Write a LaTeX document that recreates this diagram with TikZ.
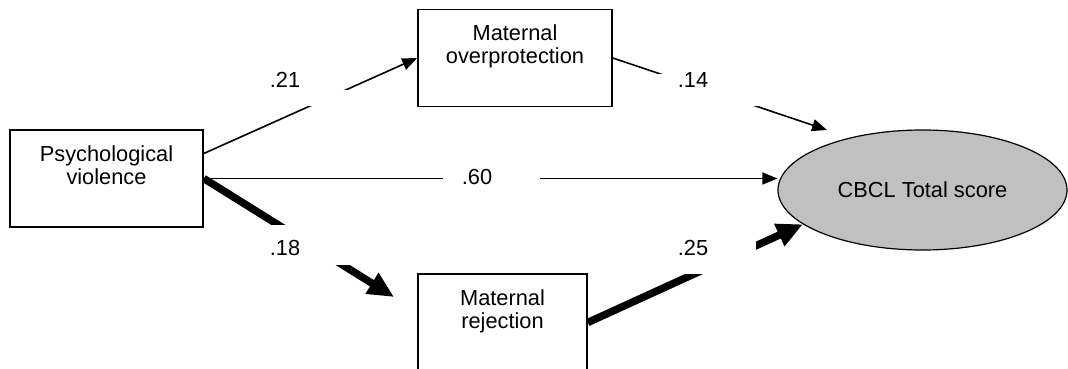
\documentclass[tikz,border=0pt]{standalone}
\usepackage{fontspec}
\setmainfont{Liberation Sans}
\usetikzlibrary{arrows.meta,shapes.geometric}
\definecolor{ellfill}{HTML}{C0C0C0}
\begin{document}
\begin{tikzpicture}[x=1pt,y=-1pt,
  font=\fontsize{21.8}{23}\selectfont,
  boxnode/.style={draw, line width=1.6pt, rectangle, inner xsep=0pt, inner ysep=0pt,
    align=center, minimum height=97pt, text height=54pt, text depth=43pt},
  thinpath/.style={line width=1.6pt, -{Triangle[length=15pt,width=12pt]}},
  thickpath/.style={line width=7.5pt, -{Triangle[length=26pt,width=23pt]}},
  gapbox/.style={fill=white},
  coef/.style={inner sep=0pt}
]
\useasboundingbox (0,0) rectangle (1068,369);
\clip (0,0) rectangle (1068,369);

\node[boxnode, minimum width=193pt] (pv) at (106.5,178.5) {Psychological\\violence};
\node[boxnode, minimum width=194pt] (mo) at (515,58) {Maternal\\overprotection};
\node[boxnode, minimum width=169pt] (mr) at (502.5,322.5) {Maternal\\rejection};
\node[ellipse, draw, line width=1.2pt, fill=ellfill, minimum width=289pt,
  minimum height=120pt, inner sep=0pt] (cbcl) at (922.5,190) {CBCL Total score};

\coordinate (t18) at (394,297);
\coordinate (t14) at (827,130);

\draw[thinpath] ([yshift=25pt]pv.east) -- (mo.west);
\draw[thinpath] (pv.east) -- (pv.east -| cbcl.west);
\draw[thickpath] (pv.east) -- (t18);
\draw[thinpath] (mo.east) -- (t14);
\draw[thickpath] (mr.east) -- (cbcl.196);

\fill[gapbox] (250,90) rectangle (370,106);
\fill[gapbox] (640,74) rectangle (770,106);
\fill[gapbox] (443,165) rectangle (540,191);
\fill[gapbox] (240,225) rectangle (380,265);
\fill[gapbox] (630,205) rectangle (756,274);

\node[coef] (l21) at (285,80) {.21};
\node[coef] (l14) at (693,80) {.14};
\node[coef] (l60) at (477,177) {.60};
\node[coef] (l18) at (285,248) {.18};
\node[coef] (l25) at (693,248) {.25};
\end{tikzpicture}
\end{document}
